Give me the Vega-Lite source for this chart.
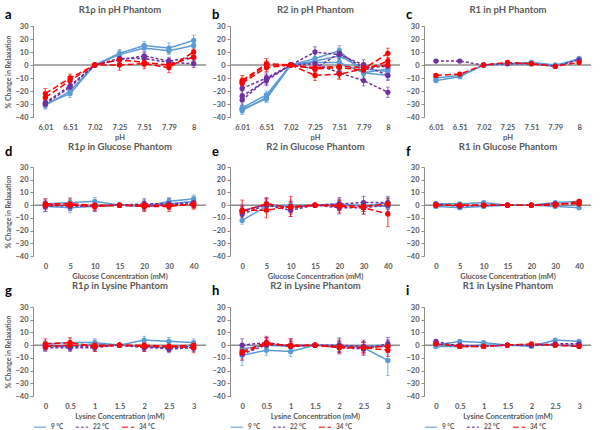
{
"$schema":"https://vega.github.io/schema/vega-lite/v6.json",
"padding":{"left":4,"top":4,"right":0,"bottom":0},
"spacing":0,
"datasets":{
"zero":[{"v":0}],
"a":[
{"x":"6.01","t":"9 °C","r":1,"v":-30,"e":3},{"x":"6.51","t":"9 °C","r":1,"v":-22,"e":3},{"x":"7.02","t":"9 °C","r":1,"v":0,"e":1},{"x":"7.25","t":"9 °C","r":1,"v":9,"e":3},{"x":"7.51","t":"9 °C","r":1,"v":15,"e":3},{"x":"7.79","t":"9 °C","r":1,"v":13,"e":4},{"x":"8","t":"9 °C","r":1,"v":19,"e":4},
{"x":"6.01","t":"9 °C","r":2,"v":-31,"e":3},{"x":"6.51","t":"9 °C","r":2,"v":-20,"e":3},{"x":"7.02","t":"9 °C","r":2,"v":0,"e":1},{"x":"7.25","t":"9 °C","r":2,"v":8,"e":3},{"x":"7.51","t":"9 °C","r":2,"v":13,"e":3},{"x":"7.79","t":"9 °C","r":2,"v":11,"e":3},{"x":"8","t":"9 °C","r":2,"v":15,"e":3},
{"x":"6.01","t":"22 °C","r":1,"v":-30,"e":3},{"x":"6.51","t":"22 °C","r":1,"v":-17,"e":3},{"x":"7.02","t":"22 °C","r":1,"v":0,"e":1},{"x":"7.25","t":"22 °C","r":1,"v":4,"e":3},{"x":"7.51","t":"22 °C","r":1,"v":7,"e":3},{"x":"7.79","t":"22 °C","r":1,"v":3,"e":3},{"x":"8","t":"22 °C","r":1,"v":6,"e":3},
{"x":"6.01","t":"22 °C","r":2,"v":-29,"e":3},{"x":"6.51","t":"22 °C","r":2,"v":-16,"e":3},{"x":"7.02","t":"22 °C","r":2,"v":0,"e":1},{"x":"7.25","t":"22 °C","r":2,"v":5,"e":3},{"x":"7.51","t":"22 °C","r":2,"v":5,"e":3},{"x":"7.79","t":"22 °C","r":2,"v":2,"e":3},{"x":"8","t":"22 °C","r":2,"v":1,"e":3},
{"x":"6.01","t":"34 °C","r":1,"v":-22,"e":4},{"x":"6.51","t":"34 °C","r":1,"v":-10,"e":3},{"x":"7.02","t":"34 °C","r":1,"v":0,"e":1},{"x":"7.25","t":"34 °C","r":1,"v":0,"e":4},{"x":"7.51","t":"34 °C","r":1,"v":1,"e":4},{"x":"7.79","t":"34 °C","r":1,"v":-2,"e":4},{"x":"8","t":"34 °C","r":1,"v":10,"e":3},
{"x":"6.01","t":"34 °C","r":2,"v":-25,"e":3},{"x":"6.51","t":"34 °C","r":2,"v":-12,"e":3},{"x":"7.02","t":"34 °C","r":2,"v":0,"e":1},{"x":"7.25","t":"34 °C","r":2,"v":4,"e":3},{"x":"7.51","t":"34 °C","r":2,"v":2,"e":3},{"x":"7.79","t":"34 °C","r":2,"v":0,"e":3},{"x":"8","t":"34 °C","r":2,"v":6,"e":3}
],
"b":[
{"x":"6.01","t":"9 °C","r":1,"v":-33,"e":3},{"x":"6.51","t":"9 °C","r":1,"v":-23,"e":3},{"x":"7.02","t":"9 °C","r":1,"v":0,"e":1},{"x":"7.25","t":"9 °C","r":1,"v":5,"e":4},{"x":"7.51","t":"9 °C","r":1,"v":11,"e":4},{"x":"7.79","t":"9 °C","r":1,"v":-6,"e":4},{"x":"8","t":"9 °C","r":1,"v":-3,"e":3},
{"x":"6.01","t":"9 °C","r":2,"v":-35,"e":3},{"x":"6.51","t":"9 °C","r":2,"v":-25,"e":3},{"x":"7.02","t":"9 °C","r":2,"v":0,"e":1},{"x":"7.25","t":"9 °C","r":2,"v":3,"e":3},{"x":"7.51","t":"9 °C","r":2,"v":7,"e":3},{"x":"7.79","t":"9 °C","r":2,"v":-3,"e":3},{"x":"8","t":"9 °C","r":2,"v":-5,"e":3},
{"x":"6.01","t":"9 °C","r":3,"v":-34,"e":3},{"x":"6.51","t":"9 °C","r":3,"v":-26,"e":3},{"x":"7.02","t":"9 °C","r":3,"v":0,"e":1},{"x":"7.25","t":"9 °C","r":3,"v":2,"e":3},{"x":"7.51","t":"9 °C","r":3,"v":2,"e":3},{"x":"7.79","t":"9 °C","r":3,"v":-6,"e":3},{"x":"8","t":"9 °C","r":3,"v":-8,"e":3},
{"x":"6.01","t":"22 °C","r":1,"v":-18,"e":4},{"x":"6.51","t":"22 °C","r":1,"v":-10,"e":4},{"x":"7.02","t":"22 °C","r":1,"v":0,"e":1},{"x":"7.25","t":"22 °C","r":1,"v":10,"e":4},{"x":"7.51","t":"22 °C","r":1,"v":8,"e":4},{"x":"7.79","t":"22 °C","r":1,"v":0,"e":4},{"x":"8","t":"22 °C","r":1,"v":-8,"e":4},
{"x":"6.01","t":"22 °C","r":2,"v":-24,"e":4},{"x":"6.51","t":"22 °C","r":2,"v":-12,"e":4},{"x":"7.02","t":"22 °C","r":2,"v":0,"e":1},{"x":"7.25","t":"22 °C","r":2,"v":1,"e":4},{"x":"7.51","t":"22 °C","r":2,"v":-6,"e":4},{"x":"7.79","t":"22 °C","r":2,"v":-12,"e":4},{"x":"8","t":"22 °C","r":2,"v":-21,"e":4},
{"x":"6.01","t":"22 °C","r":3,"v":-27,"e":4},{"x":"6.51","t":"22 °C","r":3,"v":-11,"e":4},{"x":"7.02","t":"22 °C","r":3,"v":0,"e":1},{"x":"7.25","t":"22 °C","r":3,"v":-3,"e":4},{"x":"7.51","t":"22 °C","r":3,"v":9,"e":4},{"x":"7.79","t":"22 °C","r":3,"v":-2,"e":4},{"x":"8","t":"22 °C","r":3,"v":-1,"e":4},
{"x":"6.01","t":"34 °C","r":1,"v":-12,"e":4},{"x":"6.51","t":"34 °C","r":1,"v":1,"e":4},{"x":"7.02","t":"34 °C","r":1,"v":0,"e":1},{"x":"7.25","t":"34 °C","r":1,"v":-8,"e":4},{"x":"7.51","t":"34 °C","r":1,"v":-7,"e":4},{"x":"7.79","t":"34 °C","r":1,"v":-3,"e":4},{"x":"8","t":"34 °C","r":1,"v":9,"e":4},
{"x":"6.01","t":"34 °C","r":2,"v":-14,"e":3},{"x":"6.51","t":"34 °C","r":2,"v":-2,"e":3},{"x":"7.02","t":"34 °C","r":2,"v":0,"e":1},{"x":"7.25","t":"34 °C","r":2,"v":-3,"e":3},{"x":"7.51","t":"34 °C","r":2,"v":-2,"e":3},{"x":"7.79","t":"34 °C","r":2,"v":-4,"e":3},{"x":"8","t":"34 °C","r":2,"v":3,"e":3},
{"x":"6.01","t":"34 °C","r":3,"v":-13,"e":3},{"x":"6.51","t":"34 °C","r":3,"v":0,"e":3},{"x":"7.02","t":"34 °C","r":3,"v":0,"e":1},{"x":"7.25","t":"34 °C","r":3,"v":-2,"e":3},{"x":"7.51","t":"34 °C","r":3,"v":-1,"e":3},{"x":"7.79","t":"34 °C","r":3,"v":-2,"e":3},{"x":"8","t":"34 °C","r":3,"v":0,"e":3}
],
"c":[
{"x":"6.01","t":"9 °C","r":1,"v":-12,"e":1},{"x":"6.51","t":"9 °C","r":1,"v":-9,"e":1},{"x":"7.02","t":"9 °C","r":1,"v":0,"e":1},{"x":"7.25","t":"9 °C","r":1,"v":1,"e":1},{"x":"7.51","t":"9 °C","r":1,"v":2,"e":1},{"x":"7.79","t":"9 °C","r":1,"v":0,"e":1},{"x":"8","t":"9 °C","r":1,"v":4,"e":1},
{"x":"6.01","t":"9 °C","r":2,"v":-10,"e":1},{"x":"6.51","t":"9 °C","r":2,"v":-8,"e":1},{"x":"7.02","t":"9 °C","r":2,"v":0,"e":1},{"x":"7.25","t":"9 °C","r":2,"v":1,"e":1},{"x":"7.51","t":"9 °C","r":2,"v":1,"e":1},{"x":"7.79","t":"9 °C","r":2,"v":-1,"e":1},{"x":"8","t":"9 °C","r":2,"v":5,"e":1},
{"x":"6.01","t":"22 °C","r":1,"v":3,"e":1},{"x":"6.51","t":"22 °C","r":1,"v":3,"e":1},{"x":"7.02","t":"22 °C","r":1,"v":0,"e":1},{"x":"7.25","t":"22 °C","r":1,"v":1,"e":1},{"x":"7.51","t":"22 °C","r":1,"v":1,"e":1},{"x":"7.79","t":"22 °C","r":1,"v":-1,"e":1},{"x":"8","t":"22 °C","r":1,"v":4,"e":1},
{"x":"6.01","t":"34 °C","r":1,"v":-8,"e":1},{"x":"6.51","t":"34 °C","r":1,"v":-7,"e":1},{"x":"7.02","t":"34 °C","r":1,"v":0,"e":1},{"x":"7.25","t":"34 °C","r":1,"v":2,"e":1},{"x":"7.51","t":"34 °C","r":1,"v":1,"e":1},{"x":"7.79","t":"34 °C","r":1,"v":-1,"e":1},{"x":"8","t":"34 °C","r":1,"v":2,"e":1}
],
"d":[
{"x":"0","t":"9 °C","r":1,"v":1,"e":4},{"x":"5","t":"9 °C","r":1,"v":2,"e":4},{"x":"10","t":"9 °C","r":1,"v":3,"e":3},{"x":"15","t":"9 °C","r":1,"v":0,"e":1},{"x":"20","t":"9 °C","r":1,"v":-1,"e":3},{"x":"30","t":"9 °C","r":1,"v":3,"e":3},{"x":"40","t":"9 °C","r":1,"v":5,"e":3},
{"x":"0","t":"9 °C","r":2,"v":-1,"e":4},{"x":"5","t":"9 °C","r":2,"v":-2,"e":4},{"x":"10","t":"9 °C","r":2,"v":-1,"e":4},{"x":"15","t":"9 °C","r":2,"v":0,"e":1},{"x":"20","t":"9 °C","r":2,"v":0,"e":4},{"x":"30","t":"9 °C","r":2,"v":1,"e":4},{"x":"40","t":"9 °C","r":2,"v":3,"e":4},
{"x":"0","t":"22 °C","r":1,"v":-1,"e":4},{"x":"5","t":"22 °C","r":1,"v":0,"e":4},{"x":"10","t":"22 °C","r":1,"v":-1,"e":4},{"x":"15","t":"22 °C","r":1,"v":0,"e":1},{"x":"20","t":"22 °C","r":1,"v":1,"e":4},{"x":"30","t":"22 °C","r":1,"v":1,"e":4},{"x":"40","t":"22 °C","r":1,"v":2,"e":4},
{"x":"0","t":"22 °C","r":2,"v":1,"e":3},{"x":"5","t":"22 °C","r":2,"v":-1,"e":3},{"x":"10","t":"22 °C","r":2,"v":0,"e":3},{"x":"15","t":"22 °C","r":2,"v":0,"e":1},{"x":"20","t":"22 °C","r":2,"v":-1,"e":3},{"x":"30","t":"22 °C","r":2,"v":0,"e":3},{"x":"40","t":"22 °C","r":2,"v":1,"e":3},
{"x":"0","t":"34 °C","r":1,"v":1,"e":4},{"x":"5","t":"34 °C","r":1,"v":1,"e":4},{"x":"10","t":"34 °C","r":1,"v":0,"e":4},{"x":"15","t":"34 °C","r":1,"v":0,"e":1},{"x":"20","t":"34 °C","r":1,"v":-1,"e":4},{"x":"30","t":"34 °C","r":1,"v":-1,"e":4},{"x":"40","t":"34 °C","r":1,"v":1,"e":4},
{"x":"0","t":"34 °C","r":2,"v":0,"e":3},{"x":"5","t":"34 °C","r":2,"v":0,"e":3},{"x":"10","t":"34 °C","r":2,"v":-1,"e":3},{"x":"15","t":"34 °C","r":2,"v":0,"e":1},{"x":"20","t":"34 °C","r":2,"v":0,"e":3},{"x":"30","t":"34 °C","r":2,"v":0,"e":3},{"x":"40","t":"34 °C","r":2,"v":0,"e":3}
],
"e":[
{"x":"0","t":"9 °C","r":1,"v":-12,"e":3},{"x":"5","t":"9 °C","r":1,"v":-1,"e":4},{"x":"10","t":"9 °C","r":1,"v":0,"e":4},{"x":"15","t":"9 °C","r":1,"v":0,"e":1},{"x":"20","t":"9 °C","r":1,"v":0,"e":4},{"x":"30","t":"9 °C","r":1,"v":0,"e":3},{"x":"40","t":"9 °C","r":1,"v":-1,"e":4},
{"x":"0","t":"9 °C","r":2,"v":-4,"e":4},{"x":"5","t":"9 °C","r":2,"v":0,"e":4},{"x":"10","t":"9 °C","r":2,"v":-1,"e":4},{"x":"15","t":"9 °C","r":2,"v":0,"e":1},{"x":"20","t":"9 °C","r":2,"v":1,"e":4},{"x":"30","t":"9 °C","r":2,"v":-1,"e":4},{"x":"40","t":"9 °C","r":2,"v":2,"e":4},
{"x":"0","t":"22 °C","r":1,"v":-5,"e":5},{"x":"5","t":"22 °C","r":1,"v":1,"e":5},{"x":"10","t":"22 °C","r":1,"v":-2,"e":5},{"x":"15","t":"22 °C","r":1,"v":0,"e":1},{"x":"20","t":"22 °C","r":1,"v":1,"e":5},{"x":"30","t":"22 °C","r":1,"v":2,"e":5},{"x":"40","t":"22 °C","r":1,"v":2,"e":5},
{"x":"0","t":"22 °C","r":2,"v":-7,"e":5},{"x":"5","t":"22 °C","r":2,"v":0,"e":5},{"x":"10","t":"22 °C","r":2,"v":-4,"e":5},{"x":"15","t":"22 °C","r":2,"v":0,"e":1},{"x":"20","t":"22 °C","r":2,"v":-2,"e":5},{"x":"30","t":"22 °C","r":2,"v":-2,"e":5},{"x":"40","t":"22 °C","r":2,"v":0,"e":5},
{"x":"0","t":"34 °C","r":1,"v":-4,"e":8},{"x":"5","t":"34 °C","r":1,"v":-4,"e":6},{"x":"10","t":"34 °C","r":1,"v":-1,"e":8},{"x":"15","t":"34 °C","r":1,"v":0,"e":1},{"x":"20","t":"34 °C","r":1,"v":-1,"e":5},{"x":"30","t":"34 °C","r":1,"v":-2,"e":5},{"x":"40","t":"34 °C","r":1,"v":-7,"e":10},
{"x":"0","t":"34 °C","r":2,"v":-5,"e":4},{"x":"5","t":"34 °C","r":2,"v":1,"e":4},{"x":"10","t":"34 °C","r":2,"v":-2,"e":4},{"x":"15","t":"34 °C","r":2,"v":0,"e":1},{"x":"20","t":"34 °C","r":2,"v":0,"e":4},{"x":"30","t":"34 °C","r":2,"v":-1,"e":4},{"x":"40","t":"34 °C","r":2,"v":1,"e":4}
],
"f":[
{"x":"0","t":"9 °C","r":1,"v":1,"e":1},{"x":"5","t":"9 °C","r":1,"v":1,"e":1},{"x":"10","t":"9 °C","r":1,"v":2,"e":1},{"x":"15","t":"9 °C","r":1,"v":0,"e":1},{"x":"20","t":"9 °C","r":1,"v":0,"e":1},{"x":"30","t":"9 °C","r":1,"v":2,"e":1},{"x":"40","t":"9 °C","r":1,"v":3,"e":1},
{"x":"0","t":"9 °C","r":2,"v":-1,"e":1},{"x":"5","t":"9 °C","r":2,"v":-2,"e":1},{"x":"10","t":"9 °C","r":2,"v":-1,"e":1},{"x":"15","t":"9 °C","r":2,"v":0,"e":1},{"x":"20","t":"9 °C","r":2,"v":0,"e":1},{"x":"30","t":"9 °C","r":2,"v":-1,"e":1},{"x":"40","t":"9 °C","r":2,"v":-2,"e":1},
{"x":"0","t":"22 °C","r":1,"v":1,"e":1},{"x":"5","t":"22 °C","r":1,"v":-1,"e":1},{"x":"10","t":"22 °C","r":1,"v":0,"e":1},{"x":"15","t":"22 °C","r":1,"v":0,"e":1},{"x":"20","t":"22 °C","r":1,"v":0,"e":1},{"x":"30","t":"22 °C","r":1,"v":1,"e":1},{"x":"40","t":"22 °C","r":1,"v":1,"e":1},
{"x":"0","t":"34 °C","r":1,"v":0,"e":1},{"x":"5","t":"34 °C","r":1,"v":0,"e":1},{"x":"10","t":"34 °C","r":1,"v":0,"e":1},{"x":"15","t":"34 °C","r":1,"v":0,"e":1},{"x":"20","t":"34 °C","r":1,"v":0,"e":1},{"x":"30","t":"34 °C","r":1,"v":0,"e":1},{"x":"40","t":"34 °C","r":1,"v":3,"e":1},
{"x":"0","t":"34 °C","r":2,"v":0,"e":1},{"x":"5","t":"34 °C","r":2,"v":0,"e":1},{"x":"10","t":"34 °C","r":2,"v":0,"e":1},{"x":"15","t":"34 °C","r":2,"v":0,"e":1},{"x":"20","t":"34 °C","r":2,"v":0,"e":1},{"x":"30","t":"34 °C","r":2,"v":1,"e":1},{"x":"40","t":"34 °C","r":2,"v":1,"e":1}
],
"g":[
{"x":"0","t":"9 °C","r":1,"v":1,"e":3},{"x":"0.5","t":"9 °C","r":1,"v":2,"e":3},{"x":"1","t":"9 °C","r":1,"v":2,"e":3},{"x":"1.5","t":"9 °C","r":1,"v":0,"e":1},{"x":"2","t":"9 °C","r":1,"v":4,"e":3},{"x":"2.5","t":"9 °C","r":1,"v":3,"e":3},{"x":"3","t":"9 °C","r":1,"v":2,"e":3},
{"x":"0","t":"9 °C","r":2,"v":-1,"e":3},{"x":"0.5","t":"9 °C","r":2,"v":-1,"e":3},{"x":"1","t":"9 °C","r":2,"v":1,"e":3},{"x":"1.5","t":"9 °C","r":2,"v":0,"e":1},{"x":"2","t":"9 °C","r":2,"v":-1,"e":3},{"x":"2.5","t":"9 °C","r":2,"v":-2,"e":3},{"x":"3","t":"9 °C","r":2,"v":0,"e":3},
{"x":"0","t":"22 °C","r":1,"v":-2,"e":3},{"x":"0.5","t":"22 °C","r":1,"v":-2,"e":3},{"x":"1","t":"22 °C","r":1,"v":-2,"e":3},{"x":"1.5","t":"22 °C","r":1,"v":0,"e":1},{"x":"2","t":"22 °C","r":1,"v":-1,"e":3},{"x":"2.5","t":"22 °C","r":1,"v":-3,"e":3},{"x":"3","t":"22 °C","r":1,"v":-2,"e":3},
{"x":"0","t":"22 °C","r":2,"v":0,"e":3},{"x":"0.5","t":"22 °C","r":2,"v":-1,"e":3},{"x":"1","t":"22 °C","r":2,"v":-1,"e":3},{"x":"1.5","t":"22 °C","r":2,"v":0,"e":1},{"x":"2","t":"22 °C","r":2,"v":-2,"e":3},{"x":"2.5","t":"22 °C","r":2,"v":-2,"e":3},{"x":"3","t":"22 °C","r":2,"v":-1,"e":3},
{"x":"0","t":"34 °C","r":1,"v":1,"e":4},{"x":"0.5","t":"34 °C","r":1,"v":2,"e":4},{"x":"1","t":"34 °C","r":1,"v":-1,"e":4},{"x":"1.5","t":"34 °C","r":1,"v":0,"e":1},{"x":"2","t":"34 °C","r":1,"v":-1,"e":4},{"x":"2.5","t":"34 °C","r":1,"v":-1,"e":4},{"x":"3","t":"34 °C","r":1,"v":-2,"e":4},
{"x":"0","t":"34 °C","r":2,"v":-1,"e":3},{"x":"0.5","t":"34 °C","r":2,"v":0,"e":3},{"x":"1","t":"34 °C","r":2,"v":0,"e":3},{"x":"1.5","t":"34 °C","r":2,"v":0,"e":1},{"x":"2","t":"34 °C","r":2,"v":0,"e":3},{"x":"2.5","t":"34 °C","r":2,"v":-1,"e":3},{"x":"3","t":"34 °C","r":2,"v":0,"e":3}
],
"h":[
{"x":"0","t":"9 °C","r":1,"v":-8,"e":8},{"x":"0.5","t":"9 °C","r":1,"v":-4,"e":4},{"x":"1","t":"9 °C","r":1,"v":-5,"e":4},{"x":"1.5","t":"9 °C","r":1,"v":0,"e":1},{"x":"2","t":"9 °C","r":1,"v":0,"e":6},{"x":"2.5","t":"9 °C","r":1,"v":-2,"e":4},{"x":"3","t":"9 °C","r":1,"v":-12,"e":12},
{"x":"0","t":"9 °C","r":2,"v":-3,"e":4},{"x":"0.5","t":"9 °C","r":2,"v":0,"e":4},{"x":"1","t":"9 °C","r":2,"v":-1,"e":4},{"x":"1.5","t":"9 °C","r":2,"v":0,"e":1},{"x":"2","t":"9 °C","r":2,"v":-1,"e":4},{"x":"2.5","t":"9 °C","r":2,"v":-1,"e":4},{"x":"3","t":"9 °C","r":2,"v":0,"e":4},
{"x":"0","t":"22 °C","r":1,"v":0,"e":5},{"x":"0.5","t":"22 °C","r":1,"v":2,"e":5},{"x":"1","t":"22 °C","r":1,"v":-1,"e":5},{"x":"1.5","t":"22 °C","r":1,"v":0,"e":1},{"x":"2","t":"22 °C","r":1,"v":-2,"e":5},{"x":"2.5","t":"22 °C","r":1,"v":-3,"e":5},{"x":"3","t":"22 °C","r":1,"v":1,"e":5},
{"x":"0","t":"22 °C","r":2,"v":-7,"e":5},{"x":"0.5","t":"22 °C","r":2,"v":0,"e":5},{"x":"1","t":"22 °C","r":2,"v":0,"e":5},{"x":"1.5","t":"22 °C","r":2,"v":0,"e":1},{"x":"2","t":"22 °C","r":2,"v":0,"e":5},{"x":"2.5","t":"22 °C","r":2,"v":-1,"e":5},{"x":"3","t":"22 °C","r":2,"v":-1,"e":5},
{"x":"0","t":"34 °C","r":1,"v":-6,"e":5},{"x":"0.5","t":"34 °C","r":1,"v":1,"e":5},{"x":"1","t":"34 °C","r":1,"v":0,"e":5},{"x":"1.5","t":"34 °C","r":1,"v":0,"e":1},{"x":"2","t":"34 °C","r":1,"v":-1,"e":5},{"x":"2.5","t":"34 °C","r":1,"v":-2,"e":5},{"x":"3","t":"34 °C","r":1,"v":-4,"e":5},
{"x":"0","t":"34 °C","r":2,"v":-5,"e":4},{"x":"0.5","t":"34 °C","r":2,"v":2,"e":4},{"x":"1","t":"34 °C","r":2,"v":-1,"e":4},{"x":"1.5","t":"34 °C","r":2,"v":0,"e":1},{"x":"2","t":"34 °C","r":2,"v":-2,"e":4},{"x":"2.5","t":"34 °C","r":2,"v":-2,"e":4},{"x":"3","t":"34 °C","r":2,"v":-1,"e":4}
],
"i":[
{"x":"0","t":"9 °C","r":1,"v":0,"e":1},{"x":"0.5","t":"9 °C","r":1,"v":3,"e":1},{"x":"1","t":"9 °C","r":1,"v":2,"e":1},{"x":"1.5","t":"9 °C","r":1,"v":0,"e":1},{"x":"2","t":"9 °C","r":1,"v":-1,"e":1},{"x":"2.5","t":"9 °C","r":1,"v":4,"e":1},{"x":"3","t":"9 °C","r":1,"v":3,"e":1},
{"x":"0","t":"9 °C","r":2,"v":-1,"e":1},{"x":"0.5","t":"9 °C","r":2,"v":-1,"e":1},{"x":"1","t":"9 °C","r":2,"v":0,"e":1},{"x":"1.5","t":"9 °C","r":2,"v":0,"e":1},{"x":"2","t":"9 °C","r":2,"v":0,"e":1},{"x":"2.5","t":"9 °C","r":2,"v":0,"e":1},{"x":"3","t":"9 °C","r":2,"v":-1,"e":1},
{"x":"0","t":"22 °C","r":1,"v":3,"e":1},{"x":"0.5","t":"22 °C","r":1,"v":-1,"e":1},{"x":"1","t":"22 °C","r":1,"v":-1,"e":1},{"x":"1.5","t":"22 °C","r":1,"v":0,"e":1},{"x":"2","t":"22 °C","r":1,"v":0,"e":1},{"x":"2.5","t":"22 °C","r":1,"v":1,"e":1},{"x":"3","t":"22 °C","r":1,"v":1,"e":1},
{"x":"0","t":"22 °C","r":2,"v":1,"e":1},{"x":"0.5","t":"22 °C","r":2,"v":0,"e":1},{"x":"1","t":"22 °C","r":2,"v":-1,"e":1},{"x":"1.5","t":"22 °C","r":2,"v":0,"e":1},{"x":"2","t":"22 °C","r":2,"v":0,"e":1},{"x":"2.5","t":"22 °C","r":2,"v":0,"e":1},{"x":"3","t":"22 °C","r":2,"v":0,"e":1},
{"x":"0","t":"34 °C","r":1,"v":1,"e":1},{"x":"0.5","t":"34 °C","r":1,"v":-1,"e":1},{"x":"1","t":"34 °C","r":1,"v":-1,"e":1},{"x":"1.5","t":"34 °C","r":1,"v":0,"e":1},{"x":"2","t":"34 °C","r":1,"v":1,"e":1},{"x":"2.5","t":"34 °C","r":1,"v":0,"e":1},{"x":"3","t":"34 °C","r":1,"v":-1,"e":1}
]
},
"vconcat":[
{"hconcat":[
{"width":173,"height":91,"title":{"text":"a","dy":22},"data":{"name":"a"},
"encoding":{"y":{"field":"v","type":"quantitative","scale":{"domain":[-40,30],"nice":false},"axis":{"title":"% Change in Relaxation","values":[-40,-30,-20,-10,0,10,20,30],"labelOverlap":"parity","labelSeparation":-1000}}},
"layer":[
{"data":{"name":"zero"},"mark":{"type":"rule","color":"#8c8c8c","strokeWidth":1.5},"encoding":{}},
{"mark":{"type":"errorbar","ticks":{"size":4},"thickness":0.8},"encoding":{"x":{"field":"x","type":"ordinal","scale":{"type":"point","padding":0.5,"domain":["6.01","6.51","7.02","7.25","7.51","7.79","8"]},"axis":{"orient":"top","title":"R1ρ in pH Phantom","titlePadding":12}},"yError":{"field":"e"},"color":{"field":"t","type":"nominal","scale":{"domain":["9 °C","22 °C","34 °C"],"range":["#5B9BD5","#7030A0","#FF0000"]},"legend":null}}},
{"mark":{"type":"line","strokeWidth":1.5},"encoding":{"x":{"field":"x","type":"ordinal","axis":{"orient":"bottom","title":"pH"}},"color":{"field":"t","type":"nominal","legend":null},"strokeDash":{"field":"t","type":"nominal","scale":{"domain":["9 °C","22 °C","34 °C"],"range":[[1,0],[3,2],[6,3]]},"legend":null},"detail":{"field":"r"}}},
{"mark":{"type":"point","filled":true,"size":28,"opacity":1},"encoding":{"x":{"field":"x","type":"ordinal","axis":null},"color":{"field":"t","type":"nominal","legend":null}}}
],"resolve":{"axis":{"x":"independent"}}},
{"width":170,"height":91,"title":{"text":"b","dy":22},"data":{"name":"b"},
"encoding":{"y":{"field":"v","type":"quantitative","scale":{"domain":[-40,30],"nice":false},"axis":{"title":null,"values":[-40,-30,-20,-10,0,10,20,30],"labelOverlap":"parity","labelSeparation":-1000}}},
"layer":[
{"data":{"name":"zero"},"mark":{"type":"rule","color":"#8c8c8c","strokeWidth":1.5},"encoding":{}},
{"mark":{"type":"errorbar","ticks":{"size":4},"thickness":0.8},"encoding":{"x":{"field":"x","type":"ordinal","scale":{"type":"point","padding":0.5,"domain":["6.01","6.51","7.02","7.25","7.51","7.79","8"]},"axis":{"orient":"top","title":"R2 in pH Phantom","titlePadding":12}},"yError":{"field":"e"},"color":{"field":"t","type":"nominal","scale":{"domain":["9 °C","22 °C","34 °C"],"range":["#5B9BD5","#7030A0","#FF0000"]},"legend":null}}},
{"mark":{"type":"line","strokeWidth":1.5},"encoding":{"x":{"field":"x","type":"ordinal","axis":{"orient":"bottom","title":"pH"}},"color":{"field":"t","type":"nominal","legend":null},"strokeDash":{"field":"t","type":"nominal","scale":{"domain":["9 °C","22 °C","34 °C"],"range":[[1,0],[3,2],[6,3]]},"legend":null},"detail":{"field":"r"}}},
{"mark":{"type":"point","filled":true,"size":28,"opacity":1},"encoding":{"x":{"field":"x","type":"ordinal","axis":null},"color":{"field":"t","type":"nominal","legend":null}}}
],"resolve":{"axis":{"x":"independent"}}},
{"width":167,"height":91,"title":{"text":"c","dy":22},"data":{"name":"c"},
"encoding":{"y":{"field":"v","type":"quantitative","scale":{"domain":[-40,30],"nice":false},"axis":{"title":null,"values":[-40,-30,-20,-10,0,10,20,30],"labelOverlap":"parity","labelSeparation":-1000}}},
"layer":[
{"data":{"name":"zero"},"mark":{"type":"rule","color":"#8c8c8c","strokeWidth":1.5},"encoding":{}},
{"mark":{"type":"errorbar","ticks":{"size":4},"thickness":0.8},"encoding":{"x":{"field":"x","type":"ordinal","scale":{"type":"point","padding":0.5,"domain":["6.01","6.51","7.02","7.25","7.51","7.79","8"]},"axis":{"orient":"top","title":"R1 in pH Phantom","titlePadding":12}},"yError":{"field":"e"},"color":{"field":"t","type":"nominal","scale":{"domain":["9 °C","22 °C","34 °C"],"range":["#5B9BD5","#7030A0","#FF0000"]},"legend":null}}},
{"mark":{"type":"line","strokeWidth":1.5},"encoding":{"x":{"field":"x","type":"ordinal","axis":{"orient":"bottom","title":"pH"}},"color":{"field":"t","type":"nominal","legend":null},"strokeDash":{"field":"t","type":"nominal","scale":{"domain":["9 °C","22 °C","34 °C"],"range":[[1,0],[3,2],[6,3]]},"legend":null},"detail":{"field":"r"}}},
{"mark":{"type":"point","filled":true,"size":28,"opacity":1},"encoding":{"x":{"field":"x","type":"ordinal","axis":null},"color":{"field":"t","type":"nominal","legend":null}}}
],"resolve":{"axis":{"x":"independent"}}}
],"spacing":4,"resolve":{"scale":{"color":"independent","strokeDash":"independent"}}},
{"hconcat":[
{"width":173,"height":89,"title":{"text":"d","dy":22},"data":{"name":"d"},
"encoding":{"y":{"field":"v","type":"quantitative","scale":{"domain":[-40,30],"nice":false},"axis":{"title":"% Change in Relaxation","values":[-40,-30,-20,-10,0,10,20,30],"labelOverlap":"parity","labelSeparation":-1000}}},
"layer":[
{"data":{"name":"zero"},"mark":{"type":"rule","color":"#8c8c8c","strokeWidth":1.5},"encoding":{}},
{"mark":{"type":"errorbar","ticks":{"size":4},"thickness":0.8},"encoding":{"x":{"field":"x","type":"ordinal","scale":{"type":"point","padding":0.5,"domain":["0","5","10","15","20","30","40"]},"axis":{"orient":"top","title":"R1ρ in Glucose Phantom","titlePadding":16}},"yError":{"field":"e"},"color":{"field":"t","type":"nominal","scale":{"domain":["9 °C","22 °C","34 °C"],"range":["#5B9BD5","#7030A0","#FF0000"]},"legend":null}}},
{"mark":{"type":"line","strokeWidth":1.5},"encoding":{"x":{"field":"x","type":"ordinal","axis":{"orient":"bottom","title":"Glucose Concentration (mM)"}},"color":{"field":"t","type":"nominal","legend":null},"strokeDash":{"field":"t","type":"nominal","scale":{"domain":["9 °C","22 °C","34 °C"],"range":[[1,0],[3,2],[6,3]]},"legend":null},"detail":{"field":"r"}}},
{"mark":{"type":"point","filled":true,"size":28,"opacity":1},"encoding":{"x":{"field":"x","type":"ordinal","axis":null},"color":{"field":"t","type":"nominal","legend":null}}}
],"resolve":{"axis":{"x":"independent"}}},
{"width":170,"height":89,"title":{"text":"e","dy":22},"data":{"name":"e"},
"encoding":{"y":{"field":"v","type":"quantitative","scale":{"domain":[-40,30],"nice":false},"axis":{"title":null,"values":[-40,-30,-20,-10,0,10,20,30],"labelOverlap":"parity","labelSeparation":-1000}}},
"layer":[
{"data":{"name":"zero"},"mark":{"type":"rule","color":"#8c8c8c","strokeWidth":1.5},"encoding":{}},
{"mark":{"type":"errorbar","ticks":{"size":4},"thickness":0.8},"encoding":{"x":{"field":"x","type":"ordinal","scale":{"type":"point","padding":0.5,"domain":["0","5","10","15","20","30","40"]},"axis":{"orient":"top","title":"R2 in Glucose Phantom","titlePadding":16}},"yError":{"field":"e"},"color":{"field":"t","type":"nominal","scale":{"domain":["9 °C","22 °C","34 °C"],"range":["#5B9BD5","#7030A0","#FF0000"]},"legend":null}}},
{"mark":{"type":"line","strokeWidth":1.5},"encoding":{"x":{"field":"x","type":"ordinal","axis":{"orient":"bottom","title":"Glucose Concentration (mM)"}},"color":{"field":"t","type":"nominal","legend":null},"strokeDash":{"field":"t","type":"nominal","scale":{"domain":["9 °C","22 °C","34 °C"],"range":[[1,0],[3,2],[6,3]]},"legend":null},"detail":{"field":"r"}}},
{"mark":{"type":"point","filled":true,"size":28,"opacity":1},"encoding":{"x":{"field":"x","type":"ordinal","axis":null},"color":{"field":"t","type":"nominal","legend":null}}}
],"resolve":{"axis":{"x":"independent"}}},
{"width":167,"height":89,"title":{"text":"f","dy":22},"data":{"name":"f"},
"encoding":{"y":{"field":"v","type":"quantitative","scale":{"domain":[-40,30],"nice":false},"axis":{"title":null,"values":[-40,-30,-20,-10,0,10,20,30],"labelOverlap":"parity","labelSeparation":-1000}}},
"layer":[
{"data":{"name":"zero"},"mark":{"type":"rule","color":"#8c8c8c","strokeWidth":1.5},"encoding":{}},
{"mark":{"type":"errorbar","ticks":{"size":4},"thickness":0.8},"encoding":{"x":{"field":"x","type":"ordinal","scale":{"type":"point","padding":0.5,"domain":["0","5","10","15","20","30","40"]},"axis":{"orient":"top","title":"R1 in Glucose Phantom","titlePadding":16}},"yError":{"field":"e"},"color":{"field":"t","type":"nominal","scale":{"domain":["9 °C","22 °C","34 °C"],"range":["#5B9BD5","#7030A0","#FF0000"]},"legend":null}}},
{"mark":{"type":"line","strokeWidth":1.5},"encoding":{"x":{"field":"x","type":"ordinal","axis":{"orient":"bottom","title":"Glucose Concentration (mM)"}},"color":{"field":"t","type":"nominal","legend":null},"strokeDash":{"field":"t","type":"nominal","scale":{"domain":["9 °C","22 °C","34 °C"],"range":[[1,0],[3,2],[6,3]]},"legend":null},"detail":{"field":"r"}}},
{"mark":{"type":"point","filled":true,"size":28,"opacity":1},"encoding":{"x":{"field":"x","type":"ordinal","axis":null},"color":{"field":"t","type":"nominal","legend":null}}}
],"resolve":{"axis":{"x":"independent"}}}
],"spacing":4,"resolve":{"scale":{"color":"independent","strokeDash":"independent"}}},
{"hconcat":[
{"width":173,"height":89,"title":{"text":"g","dy":22},"data":{"name":"g"},
"encoding":{"y":{"field":"v","type":"quantitative","scale":{"domain":[-40,30],"nice":false},"axis":{"title":"% Change in Relaxation","values":[-40,-30,-20,-10,0,10,20,30],"labelOverlap":"parity","labelSeparation":-1000}}},
"layer":[
{"data":{"name":"zero"},"mark":{"type":"rule","color":"#8c8c8c","strokeWidth":1.5},"encoding":{}},
{"mark":{"type":"errorbar","ticks":{"size":4},"thickness":0.8},"encoding":{"x":{"field":"x","type":"ordinal","scale":{"type":"point","padding":0.5,"domain":["0","0.5","1","1.5","2","2.5","3"]},"axis":{"orient":"top","title":"R1ρ in Lysine Phantom","titlePadding":17}},"yError":{"field":"e"},"color":{"field":"t","type":"nominal","scale":{"domain":["9 °C","22 °C","34 °C"],"range":["#5B9BD5","#7030A0","#FF0000"]},"legend":{"orient":"bottom","direction":"horizontal","title":null,"symbolType":"stroke","symbolSize":150,"symbolStrokeWidth":1.5,"labelFontSize":6.5,"labelColor":"#595959","columnPadding":8,"offset":0,"padding":0}}}},
{"mark":{"type":"line","strokeWidth":1.5},"encoding":{"x":{"field":"x","type":"ordinal","axis":{"orient":"bottom","title":"Lysine Concentration (mM)"}},"color":{"field":"t","type":"nominal"},"strokeDash":{"field":"t","type":"nominal","scale":{"domain":["9 °C","22 °C","34 °C"],"range":[[1,0],[3,2],[6,3]]},"legend":{"orient":"bottom","direction":"horizontal","title":null,"symbolType":"stroke","symbolSize":150,"symbolStrokeWidth":1.5,"labelFontSize":6.5,"labelColor":"#595959","columnPadding":8,"offset":0,"padding":0}},"detail":{"field":"r"}}},
{"mark":{"type":"point","filled":true,"size":28,"opacity":1},"encoding":{"x":{"field":"x","type":"ordinal","axis":null},"color":{"field":"t","type":"nominal"}}}
],"resolve":{"axis":{"x":"independent"}}},
{"width":170,"height":89,"title":{"text":"h","dy":22},"data":{"name":"h"},
"encoding":{"y":{"field":"v","type":"quantitative","scale":{"domain":[-40,30],"nice":false},"axis":{"title":null,"values":[-40,-30,-20,-10,0,10,20,30],"labelOverlap":"parity","labelSeparation":-1000}}},
"layer":[
{"data":{"name":"zero"},"mark":{"type":"rule","color":"#8c8c8c","strokeWidth":1.5},"encoding":{}},
{"mark":{"type":"errorbar","ticks":{"size":4},"thickness":0.8},"encoding":{"x":{"field":"x","type":"ordinal","scale":{"type":"point","padding":0.5,"domain":["0","0.5","1","1.5","2","2.5","3"]},"axis":{"orient":"top","title":"R2 in Lysine Phantom","titlePadding":17}},"yError":{"field":"e"},"color":{"field":"t","type":"nominal","scale":{"domain":["9 °C","22 °C","34 °C"],"range":["#5B9BD5","#7030A0","#FF0000"]},"legend":{"orient":"bottom","direction":"horizontal","title":null,"symbolType":"stroke","symbolSize":150,"symbolStrokeWidth":1.5,"labelFontSize":6.5,"labelColor":"#595959","columnPadding":8,"offset":0,"padding":0}}}},
{"mark":{"type":"line","strokeWidth":1.5},"encoding":{"x":{"field":"x","type":"ordinal","axis":{"orient":"bottom","title":"Lysine Concentration (mM)"}},"color":{"field":"t","type":"nominal"},"strokeDash":{"field":"t","type":"nominal","scale":{"domain":["9 °C","22 °C","34 °C"],"range":[[1,0],[3,2],[6,3]]},"legend":{"orient":"bottom","direction":"horizontal","title":null,"symbolType":"stroke","symbolSize":150,"symbolStrokeWidth":1.5,"labelFontSize":6.5,"labelColor":"#595959","columnPadding":8,"offset":0,"padding":0}},"detail":{"field":"r"}}},
{"mark":{"type":"point","filled":true,"size":28,"opacity":1},"encoding":{"x":{"field":"x","type":"ordinal","axis":null},"color":{"field":"t","type":"nominal"}}}
],"resolve":{"axis":{"x":"independent"}}},
{"width":167,"height":89,"title":{"text":"i","dy":22},"data":{"name":"i"},
"encoding":{"y":{"field":"v","type":"quantitative","scale":{"domain":[-40,30],"nice":false},"axis":{"title":null,"values":[-40,-30,-20,-10,0,10,20,30],"labelOverlap":"parity","labelSeparation":-1000}}},
"layer":[
{"data":{"name":"zero"},"mark":{"type":"rule","color":"#8c8c8c","strokeWidth":1.5},"encoding":{}},
{"mark":{"type":"errorbar","ticks":{"size":4},"thickness":0.8},"encoding":{"x":{"field":"x","type":"ordinal","scale":{"type":"point","padding":0.5,"domain":["0","0.5","1","1.5","2","2.5","3"]},"axis":{"orient":"top","title":"R1 in Lysine Phantom","titlePadding":17}},"yError":{"field":"e"},"color":{"field":"t","type":"nominal","scale":{"domain":["9 °C","22 °C","34 °C"],"range":["#5B9BD5","#7030A0","#FF0000"]},"legend":{"orient":"bottom","direction":"horizontal","title":null,"symbolType":"stroke","symbolSize":150,"symbolStrokeWidth":1.5,"labelFontSize":6.5,"labelColor":"#595959","columnPadding":8,"offset":0,"padding":0}}}},
{"mark":{"type":"line","strokeWidth":1.5},"encoding":{"x":{"field":"x","type":"ordinal","axis":{"orient":"bottom","title":"Lysine Concentration (mM)"}},"color":{"field":"t","type":"nominal"},"strokeDash":{"field":"t","type":"nominal","scale":{"domain":["9 °C","22 °C","34 °C"],"range":[[1,0],[3,2],[6,3]]},"legend":{"orient":"bottom","direction":"horizontal","title":null,"symbolType":"stroke","symbolSize":150,"symbolStrokeWidth":1.5,"labelFontSize":6.5,"labelColor":"#595959","columnPadding":8,"offset":0,"padding":0}},"detail":{"field":"r"}}},
{"mark":{"type":"point","filled":true,"size":28,"opacity":1},"encoding":{"x":{"field":"x","type":"ordinal","axis":null},"color":{"field":"t","type":"nominal"}}}
],"resolve":{"axis":{"x":"independent"}}}
],"spacing":4,"resolve":{"scale":{"color":"independent","strokeDash":"independent"}}}
],
"resolve":{"scale":{"color":"independent","strokeDash":"independent"}},
"config":{
"font":"Lato",
"view":{"stroke":null},
"axis":{"grid":false,"labelFont":"Lato","titleFont":"Lato","labelColor":"#595959","titleColor":"#595959","labelFontWeight":"bold","titleFontWeight":"bold","labelFontSize":7.5,"titleFontSize":7.5},
"axisLeft":{"domainColor":"#8c8c8c","tickColor":"#8c8c8c","tickSize":3,"labelPadding":2,"titlePadding":3,"titleFontSize":7},
"axisBottom":{"domain":false,"ticks":false,"labelAngle":0,"labelPadding":6,"titlePadding":3},
"axisTop":{"domain":false,"ticks":false,"labels":false,"titleFontSize":9.5,"titleColor":"#595959"},
"title":{"anchor":"start","frame":"bounds","fontSize":13,"fontWeight":"bold","color":"#000000","font":"Lato","offset":0},
"legend":{"labelFont":"Lato","labelFontWeight":"bold"}
}
}
